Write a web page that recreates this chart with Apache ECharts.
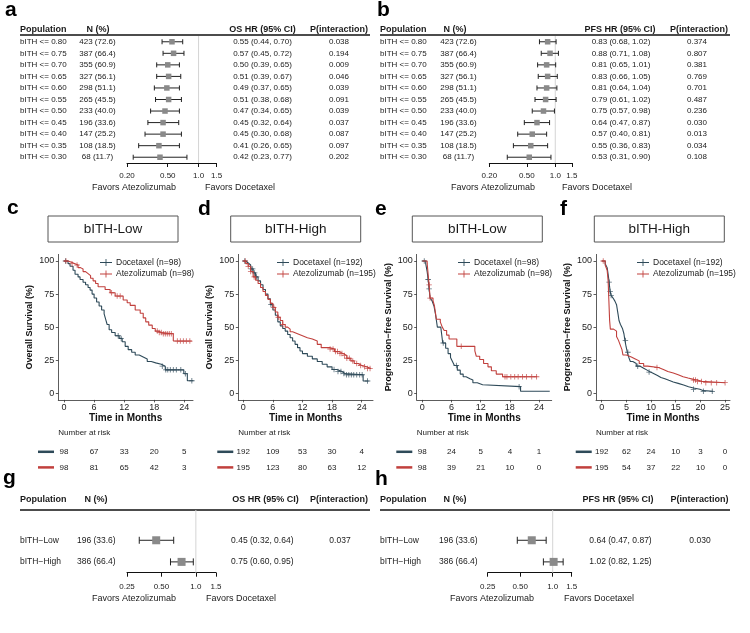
<!DOCTYPE html>
<html><head><meta charset="utf-8">
<script src="https://cdn.jsdelivr.net/npm/echarts@6/dist/echarts.min.js"></script>
<style>html,body{margin:0;padding:0;background:#fff}#chart{width:750px;height:633px}</style>
</head><body><div id="chart"></div>
<script>
const FONT = '"Liberation Sans", Arial, Helvetica, sans-serif';
const DOC = '#2E4A59', ATZ = '#C1403D';

// ---------- Forest data: panel a (OS) ----------
const aPop = ['bITH <= 0.80','bITH <= 0.75','bITH <= 0.70','bITH <= 0.65','bITH <= 0.60','bITH <= 0.55','bITH <= 0.50','bITH <= 0.45','bITH <= 0.40','bITH <= 0.35','bITH <= 0.30'];
const aN   = [423,387,355,327,298,265,233,196,147,108,68];
const aPct = [72.6,66.4,60.9,56.1,51.1,45.5,40.0,33.6,25.2,18.5,11.7];
const aHR  = [0.55,0.57,0.50,0.51,0.49,0.51,0.47,0.45,0.45,0.41,0.42];
const aLo  = [0.44,0.45,0.39,0.39,0.37,0.38,0.34,0.32,0.30,0.26,0.23];
const aHi  = [0.70,0.72,0.65,0.67,0.65,0.68,0.65,0.64,0.68,0.65,0.77];
const aP   = ['0.038','0.194','0.009','0.046','0.039','0.091','0.039','0.037','0.087','0.097','0.202'];
// ---------- panel b (PFS) ----------
const bHR  = [0.83,0.88,0.81,0.83,0.81,0.79,0.75,0.64,0.57,0.55,0.53];
const bLo  = [0.68,0.71,0.65,0.66,0.64,0.61,0.57,0.47,0.40,0.36,0.31];
const bHi  = [1.02,1.08,1.01,1.05,1.04,1.02,0.98,0.87,0.81,0.83,0.90];
const bP   = ['0.374','0.807','0.381','0.769','0.701','0.487','0.236','0.030','0.013','0.034','0.108'];
// ---------- panels g / h ----------
const ghPop = ['bITH\u2212Low','bITH\u2212High'];
const ghN   = [196,386];
const ghPct = [33.6,66.4];
const gHR = [0.45,0.75], gLo = [0.32,0.60], gHi = [0.64,0.95], gP = ['0.037',''];
const hHR = [0.64,1.02], hLo = [0.47,0.82], hHi = [0.87,1.25], hP = ['0.030',''];
// forest tick values / labels
const abTicks = [0.2,0.5,1.0,1.5], abTickLabels = ['0.20','0.50','1.0','1.5'];
const ghTicks = [0.25,0.5,1.0,1.5], ghTickLabels = ['0.25','0.50','1.0','1.5'];

// ---------- KM data (time in months, survival %) ----------
const cDocT = [0,0.8,1.2,1.8,2.2,2.8,3.2,3.8,4.3,4.8,5.2,5.6,6.0,6.5,7.0,7.5,8.0,8.3,8.6,9.0,9.5,10.2,11.0,11.6,12.2,12.8,13.5,14.2,15.0,15.8,16.6,17.4,18.3,19.4,20.2,23.9,24.6,25.8];
const cDocS = [100,98,96,93,90,88,86,84,82,80,78,75,72,69,66,63,60,56,52,48,46,43.5,41.5,39,35.5,33,31,29,27.5,26,24,23,22,20.5,17.7,14.8,9.5,9.5];
const cAtzT = [0,0.8,1.5,2.2,2.8,3.3,3.8,4.3,4.8,5.3,5.8,6.3,6.8,8.2,9.2,10.2,11.8,12.6,13.2,14.2,15.2,15.8,16.3,16.9,17.6,18.2,18.8,19.5,21.8,25.5];
const cAtzS = [100,99,98,97,95,94,92,90.5,89,87,85,83,80.5,78.5,76,73.5,70.5,68.5,66.5,63,60.5,57,54,51.5,49,47,46,45,39.5,39.5];
const dDocT = [0,0.5,1.0,1.5,2.0,2.5,3.0,3.5,4.0,4.5,5.0,5.5,6.0,6.5,7.0,7.5,8.0,8.5,9.0,9.5,10.0,10.5,11.0,11.5,12.0,13.0,14.0,15.0,16.0,17.0,18.0,19.0,20.0,20.6,24.3,25.4];
const dDocS = [100,98.5,97,94,91,88,85,82,78.5,75,71.5,67,63,59,54,51,49,47,44.5,42,39.5,37,34.5,32,30,28,26,24,22,20,18,16.5,15,14,9.3,9.3];
const dAtzT = [0,0.5,1.0,1.5,2.0,2.5,3.0,3.5,4.0,4.5,5.0,5.5,6.0,6.5,7.0,7.5,8.0,8.5,9.0,9.5,10.0,11.0,12.0,13.0,14.0,15.0,15.8,17.5,18.5,19.5,20.2,21.0,21.8,22.5,23.3,24.0,25.0,25.9];
const dAtzS = [100,98,96,92,88,85.5,83,80,77,74,71,68,65,61.5,57.5,55,52,50,48.5,46.5,45,43.5,42,41,39.5,37,34.5,33.5,31.5,30,28.5,26.5,24.5,22.5,21,20,18.8,18.8];
const eDocT = [0,0.7,1.0,1.2,1.4,1.6,2.0,2.4,2.7,2.9,3.1,3.8,4.2,4.8,5.3,5.8,6.2,6.6,7.2,7.8,8.4,9.0,9.8,10.4,11.3,12.4,20.2,26.2];
const eDocS = [100,98,92,86,79,72,70,66,60,55,50,48.5,38,34,30,27,24,21,17.5,14.5,12.5,11,10,8,6.5,5,1.5,1.5];
const eAtzT = [0,1.0,1.3,1.4,1.6,2.2,2.5,2.9,3.7,4.1,4.5,5.0,5.5,7.1,10.8,11.1,11.8,12.6,13.5,14.2,15.2,16.5,23.6];
const eAtzS = [100,98,97,82,72,70,66,56,54,50,47.5,44,41,35.5,32,28,25.5,22.5,20,17,14.5,12.5,12.5];
const fDocT = [0,0.7,1.1,1.3,1.5,1.7,1.9,2.3,2.7,3.0,3.3,3.5,3.8,4.2,4.5,4.7,4.95,5.2,5.5,5.8,6.3,7.0,7.8,8.5,9.2,9.9,10.6,11.3,12.0,12.8,13.6,14.5,15.5,16.6,17.6,18.6,19.9,20.6,22.6];
const fDocS = [100,98,95,90,84,77,74,72,69.5,67,60,55,52,49,45,40,35,31,27,24,22.5,20.5,19,17.5,16,14.8,13.5,12,11,9.8,8.5,7.5,6.2,5,4,3,2,1.5,1.5];
const fAtzT = [0,0.7,1.1,1.3,1.45,1.6,1.75,2.4,3.0,3.4,3.7,4.1,4.3,5.0,6.0,6.8,7.6,8.5,9.3,11.5,12.5,13.4,14.5,15.5,16.5,17.5,18.6,19.4,20.3,25.0];
const fAtzS = [100,97,93,85,70,55,48.5,47,43,40,37,33,29,27.5,26,24.5,22.5,20.5,19.5,18,16.5,15.3,14,12.5,11.5,10.5,10,9,8,8];
// censoring times
const cDocCens = [0.3,10.8,11.4,19.6,20.3,20.7,21.2,21.8,22.4,23.3,24.2,25.5];
const cAtzCens = [0.4,1.6,2.6,9.5,10.6,11.2,18.6,19.0,19.4,19.8,20.2,20.6,21.0,21.4,22.6,23.2,23.8,24.4,25.1];
const dDocCens = [0.3,1.6,1.9,2.3,2.7,5.6,18.4,19.2,19.8,20.4,20.9,21.4,21.9,22.4,23.0,23.6,24.1,25.2];
const dAtzCens = [0.4,1.0,1.5,2.2,6.2,7.1,8.0,17.6,18.2,18.7,19.1,19.6,20.0,20.5,21.0,21.5,22.2,23.0,23.8,24.6,25.2,25.7];
const eDocCens = [0.4,1.2,1.4,4.3,7.0,19.9];
const eAtzCens = [1.4,1.6,8.0,17.0,17.4,18.2,19.0,19.7,20.6,21.4,22.5,23.5];
const fDocCens = [1.5,1.7,1.9,4.8,5.3,7.3,9.6,18.6,20.6,22.4];
const fAtzCens = [0.3,11.2,18.6,19.0,19.4,20.2,21.1,22.2,23.3,25.0];
// number at risk
const riskTimes6 = [0,6,12,18,24], riskTimes5 = [0,5,10,15,20,25];
const cDocRisk = [98,67,33,20,5],   cAtzRisk = [98,81,65,42,3];
const dDocRisk = [192,109,53,30,4], dAtzRisk = [195,123,80,63,12];
const eDocRisk = [98,24,5,4,1],     eAtzRisk = [98,39,21,10,0];
const fDocRisk = [192,62,24,10,3,0], fAtzRisk = [195,54,37,22,10,0];

// ---------- build ----------
const grids = [], xAxes = [], yAxes = [], series = [], legends = [], graphics = [];
const txt = (s, x, y, size, opts = {}) => ({type:'text', x, y, silent:true, style:Object.assign({text:s, font:`${opts.bold?'bold ':''}${size}px ${FONT}`, fill:opts.fill||'#1a1a1a', align:opts.align||'left', verticalAlign:'middle'}, {})});

function addForest(cfg) {
  const gi = grids.length;
  grids.push({left:cfg.left, top:cfg.top, width:cfg.width, height:cfg.height, containLabel:false});
  xAxes.push({type:'log', logBase:10, gridIndex:gi, min:cfg.xmin, max:cfg.xmax, position:'bottom',
    axisLine:{show:true, onZero:false, lineStyle:{color:'#111', width:1}},
    axisTick:{show:true, length:4, customValues:cfg.ticks, lineStyle:{color:'#111', width:1}},
    axisLabel:{show:true, customValues:cfg.ticks, margin:cfg.labelMargin, fontSize:8, fontFamily:FONT, color:'#222',
      formatter:v => { const k = cfg.ticks.findIndex(t => Math.abs(t - v) < 1e-6); return k >= 0 ? cfg.tickLabels[k] : ''; }},
    splitLine:{show:false}, minorTick:{show:false}, minorSplitLine:{show:false}});
  yAxes.push({type:'value', gridIndex:gi, min:cfg.ymin, max:cfg.ymax, inverse:true, show:false, splitLine:{show:false}});
  const data = cfg.hr.map((v,i) => [cfg.lo[i], cfg.hi[i], v, i]);
  series.push({type:'custom', xAxisIndex:gi, yAxisIndex:gi, clip:false, silent:true, animation:false,
    encode:{x:[0,1,2], y:3}, data,
    renderItem:(params, api) => {
      const i = params.dataIndex;
      const y = api.coord([cfg.hr[i], i])[1];
      const xl = api.coord([cfg.lo[i], i])[0], xh = api.coord([cfg.hi[i], i])[0], xc = api.coord([cfg.hr[i], i])[0];
      const ch = [];
      if (i === 0) {
        const x1 = api.coord([1, 0])[0];
        const yt = api.coord([1, cfg.ymin])[1], yb = api.coord([1, cfg.ymax])[1];
        ch.push({type:'line', shape:{x1, y1:yt, x2:x1, y2:yb}, style:{stroke:'#d4d4d4', lineWidth:1}});
      }
      ch.push({type:'line', shape:{x1:xl, y1:y, x2:xh, y2:y}, style:{stroke:'#222', lineWidth:1}});
      ch.push({type:'line', shape:{x1:xl, y1:y-cfg.cap, x2:xl, y2:y+cfg.cap}, style:{stroke:'#222', lineWidth:1}});
      ch.push({type:'line', shape:{x1:xh, y1:y-cfg.cap, x2:xh, y2:y+cfg.cap}, style:{stroke:'#222', lineWidth:1}});
      ch.push({type:'rect', shape:{x:xc-cfg.sq/2, y:y-cfg.sq/2, width:cfg.sq, height:cfg.sq}, style:{fill:'#8a8a8a'}});
      const f = `${cfg.fs}px ${FONT}`;
      ch.push({type:'text', style:{text:cfg.pops[i], x:cfg.cols.pop, y, font:f, fill:'#1a1a1a', align:'left', verticalAlign:'middle'}});
      ch.push({type:'text', style:{text:`${cfg.n[i]} (${cfg.pct[i].toFixed(1)})`, x:cfg.cols.n, y, font:f, fill:'#1a1a1a', align:'center', verticalAlign:'middle'}});
      ch.push({type:'text', style:{text:`${cfg.hr[i].toFixed(2)} (${cfg.lo[i].toFixed(2)}, ${cfg.hi[i].toFixed(2)})`, x:cfg.cols.hr, y, font:f, fill:'#1a1a1a', align:'center', verticalAlign:'middle'}});
      ch.push({type:'text', style:{text:cfg.p[i], x:cfg.cols.p, y, font:f, fill:'#1a1a1a', align:'center', verticalAlign:'middle'}});
      return {type:'group', children:ch};
    }});
}

addForest({pops:aPop, n:aN, pct:aPct, hr:aHR, lo:aLo, hi:aHi, p:aP, left:127, width:89.6, top:36, height:127, ymin:-0.5, ymax:10.5,
  xmin:0.2, xmax:1.5, ticks:abTicks, tickLabels:abTickLabels, cols:{pop:20, n:97.5, hr:262.5, p:339}, sq:5.5, cap:2.5, fs:8, labelMargin:9});
addForest({pops:aPop, n:aN, pct:aPct, hr:bHR, lo:bLo, hi:bHi, p:bP, left:489.3, width:82.6, top:36, height:127, ymin:-0.5, ymax:10.5,
  xmin:0.2, xmax:1.5, ticks:abTicks, tickLabels:abTickLabels, cols:{pop:380, n:458.5, hr:621, p:697}, sq:5.5, cap:2.5, fs:8, labelMargin:9});
addForest({pops:ghPop, n:ghN, pct:ghPct, hr:gHR, lo:gLo, hi:gHi, p:gP, left:127, width:89, top:510, height:62.7, ymin:-1.4, ymax:1.5,
  xmin:0.25, xmax:1.5, ticks:ghTicks, tickLabels:ghTickLabels, cols:{pop:20, n:96.3, hr:262.3, p:340}, sq:8, cap:3.5, fs:8.5, labelMargin:10});
addForest({pops:ghPop, n:ghN, pct:ghPct, hr:hHR, lo:hLo, hi:hHi, p:hP, left:487.7, width:84, top:510, height:62.7, ymin:-1.4, ymax:1.5,
  xmin:0.25, xmax:1.5, ticks:ghTicks, tickLabels:ghTickLabels, cols:{pop:380, n:458.3, hr:620.5, p:700}, sq:8, cap:3.5, fs:8.5, labelMargin:10});

// forest headers, lines, favors
function forestHeader(x0, x1, y, lineY, hdr, favY, favL, favR) {
  graphics.push(txt('Population', x0, y, 9, {bold:true}));
  graphics.push(txt('N (%)', hdr.n, y, 9, {bold:true, align:'center'}));
  graphics.push(txt(hdr.hrText, hdr.hr, y, 9, {bold:true, align:'center'}));
  graphics.push(txt('P(interaction)', hdr.p, y, 9, {bold:true, align:'center'}));
  graphics.push({type:'line', silent:true, shape:{x1:x0, y1:lineY, x2:x1, y2:lineY}, style:{stroke:'#111', lineWidth:1.3}});
  graphics.push(txt('Favors Atezolizumab', favL, favY, 9, {align:'right'}));
  graphics.push(txt('Favors Docetaxel', favR, favY, 9, {align:'left'}));
}
forestHeader(20, 370, 30, 35, {n:98, hr:262.5, p:339, hrText:'OS HR (95% CI)'}, 188, 176, 205);
forestHeader(380, 730, 30, 35, {n:455, hr:620, p:699, hrText:'PFS HR (95% CI)'}, 188, 535, 562);
forestHeader(20, 370, 500, 510, {n:96, hr:265.5, p:339, hrText:'OS HR (95% CI)'}, 599, 176, 206);
forestHeader(380, 730, 500, 510, {n:455, hr:618, p:699.5, hrText:'PFS HR (95% CI)'}, 599, 534, 564);

// ---------- KM panels ----------
const plusPath = 'path://M-0.15,-1L0.15,-1L0.15,-0.15L1,-0.15L1,0.15L0.15,0.15L0.15,1L-0.15,1L-0.15,0.15L-1,0.15L-1,-0.15L-0.15,-0.15Z';
const legendIcon = 'path://M0,3.5L14,3.5L14,4.5L0,4.5Z M6.5,0L7.5,0L7.5,8L6.5,8Z';
function survAt(T, S, t) { let k = 0; for (let j = 0; j < T.length; j++) if (T[j] <= t) k = j; return S[k]; }

const kmPanels = [
  {left:58.3, width:134.7, xmin:-1.14, xmax:25.73, xticks:riskTimes6, yname:'Overall Survival (%)', title:'bITH-Low', box:48, legLeft:100,
   doc:{T:cDocT, S:cDocS, C:cDocCens, name:'Docetaxel (n=98)', risk:cDocRisk}, atz:{T:cAtzT, S:cAtzS, C:cAtzCens, name:'Atezolizumab (n=98)', risk:cAtzRisk}},
  {left:238.3, width:134.7, xmin:-1.01, xmax:26.3, xticks:riskTimes6, yname:'Overall Survival (%)', title:'bITH-High', box:230.7, legLeft:277,
   doc:{T:dDocT, S:dDocS, C:dDocCens, name:'Docetaxel (n=192)', risk:dDocRisk}, atz:{T:dAtzT, S:dAtzS, C:dAtzCens, name:'Atezolizumab (n=195)', risk:dAtzRisk}},
  {left:416.7, width:135, xmin:-1.15, xmax:26.6, xticks:riskTimes6, yname:'Progression\u2212free Survival (%)', title:'bITH-Low', box:412.3, legLeft:458,
   doc:{T:eDocT, S:eDocS, C:eDocCens, name:'Docetaxel (n=98)', risk:eDocRisk}, atz:{T:eAtzT, S:eAtzS, C:eAtzCens, name:'Atezolizumab (n=98)', risk:eAtzRisk}},
  {left:596, width:134, xmin:-1.16, xmax:26.0, xticks:riskTimes5, yname:'Progression\u2212free Survival (%)', title:'bITH-High', box:594.3, legLeft:637,
   doc:{T:fDocT, S:fDocS, C:fDocCens, name:'Docetaxel (n=192)', risk:fDocRisk}, atz:{T:fAtzT, S:fAtzS, C:fAtzCens, name:'Atezolizumab (n=195)', risk:fAtzRisk}},
];
const KM_TOP = 254.4, KM_H = 145.5;
kmPanels.forEach((p, pi) => {
  const gi = grids.length;
  grids.push({left:p.left, top:KM_TOP, width:p.width, height:KM_H, containLabel:false});
  xAxes.push({type:'value', gridIndex:gi, min:p.xmin, max:p.xmax,
    name:'Time in Months', nameLocation:'middle', nameGap:12, nameTextStyle:{fontSize:10, fontWeight:'bold', fontFamily:FONT, color:'#111'},
    axisLine:{show:true, onZero:false, lineStyle:{color:'#333', width:0.8}},
    axisTick:{show:true, length:2.5, customValues:p.xticks, lineStyle:{color:'#333', width:0.8}},
    axisLabel:{customValues:p.xticks, margin:3, fontSize:9, fontFamily:FONT, color:'#222'}, splitLine:{show:false}});
  yAxes.push({type:'value', gridIndex:gi, min:-5, max:105,
    name:p.yname, nameLocation:'middle', nameGap:24, nameTextStyle:{fontSize:9, fontWeight:'bold', fontFamily:FONT, color:'#111'},
    axisLine:{show:true, onZero:false, lineStyle:{color:'#333', width:0.8}},
    axisTick:{show:true, length:2.5, customValues:[0,25,50,75,100], lineStyle:{color:'#333', width:0.8}},
    axisLabel:{customValues:[0,25,50,75,100], margin:4, fontSize:9, fontFamily:FONT, color:'#222'}, splitLine:{show:false}});
  [[p.doc, DOC], [p.atz, ATZ]].forEach(([c, col], ci) => {
    series.push({type:'line', name:c.name, xAxisIndex:gi, yAxisIndex:gi, step:'end', showSymbol:false, animation:false, silent:true,
      color:col, lineStyle:{color:col, width:1.1}, data:c.T.map((t,k) => [t, c.S[k]]), z:3 + ci});
    series.push({type:'scatter', name:`cens-${pi}-${ci}`, xAxisIndex:gi, yAxisIndex:gi, symbol:plusPath, symbolSize:5.5, animation:false, silent:true,
      itemStyle:{color:col}, data:c.C.map(t => [t, survAt(c.T, c.S, t)]), z:3 + ci});
  });
  legends.push({left:p.legLeft, top:258, orient:'vertical', itemWidth:12, itemHeight:8, itemGap:2.5, selectedMode:false,
    icon:legendIcon, data:[p.doc.name, p.atz.name], textStyle:{fontSize:8.5, fontFamily:FONT, color:'#222', padding:[0,0,0,-1]}, padding:0});
  // title box
  graphics.push({type:'rect', silent:true, shape:{x:p.box, y:216, width:130, height:26}, style:{fill:'#fff', stroke:'#555', lineWidth:1}});
  graphics.push(txt(p.title, p.box + 65, 229, 13.5, {align:'center'}));
  graphics.push(txt('Number at risk', p.left, 433, 8, {fill:'#222'}));
  // risk table grid
  const ri = grids.length;
  grids.push({left:p.left, top:444, width:p.width, height:31.2, containLabel:false});
  xAxes.push({type:'value', gridIndex:ri, min:p.xmin, max:p.xmax, show:false, splitLine:{show:false}});
  yAxes.push({type:'value', gridIndex:ri, min:-0.5, max:1.5, inverse:true, show:false, splitLine:{show:false}});
  const rdata = [];
  p.xticks.forEach((t,k) => { rdata.push([t, 0, p.doc.risk[k]]); rdata.push([t, 1, p.atz.risk[k]]); });
  series.push({type:'custom', xAxisIndex:ri, yAxisIndex:ri, clip:false, silent:true, animation:false, encode:{x:0, y:1}, data:rdata,
    renderItem:(params, api) => {
      const d = rdata[params.dataIndex];
      const pt = api.coord([d[0], d[1]]);
      const ch = [{type:'text', style:{text:String(d[2]), x:pt[0], y:pt[1], font:`8px ${FONT}`, fill:'#222', align:'center', verticalAlign:'middle'}}];
      if (d[0] === 0) ch.push({type:'line', shape:{x1:pt[0]-26, y1:pt[1], x2:pt[0]-10, y2:pt[1]}, style:{stroke:d[1] === 0 ? DOC : ATZ, lineWidth:2.5}});
      return {type:'group', children:ch};
    }});
});

// panel letters
[['a',5,10],['b',377,10],['c',7,208],['d',198,209],['e',375,209],['f',560,209],['g',3,478],['h',375,479]].forEach(([l,x,y]) =>
  graphics.push(txt(l, x, y, 21, {bold:true, fill:'#000'})));

const chart = echarts.init(document.getElementById('chart'), null, {renderer:'canvas'});
chart.setOption({
  animation:false, backgroundColor:'#fff',
  grid:grids, xAxis:xAxes, yAxis:yAxes, series, legend:legends,
  graphic:{elements:graphics}
});
</script></body></html>
